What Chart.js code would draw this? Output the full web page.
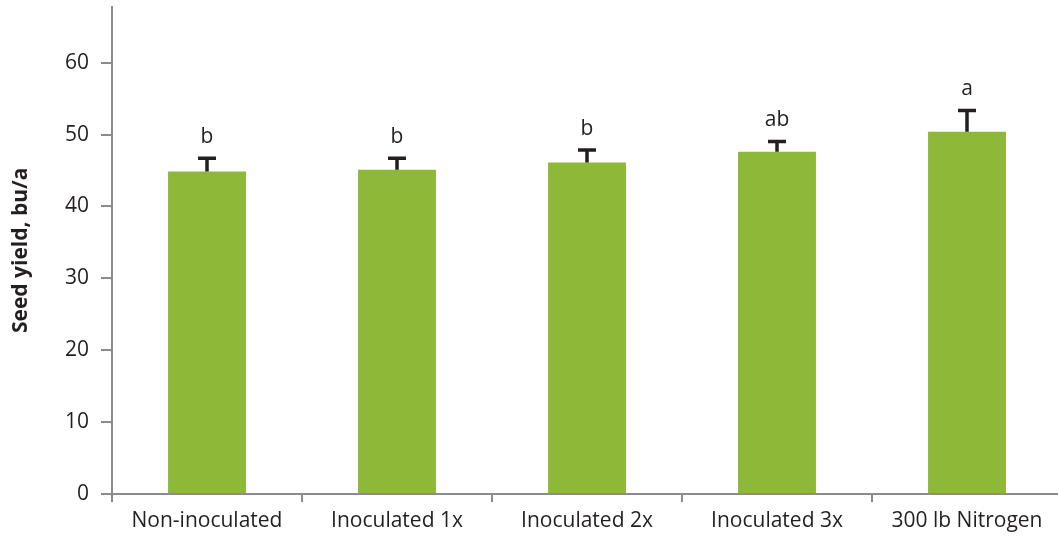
<!DOCTYPE html>
<html>
<head>
<meta charset="utf-8">
<script src="https://cdn.jsdelivr.net/npm/chart.js@4.4.0/dist/chart.umd.min.js"></script>
<style>
html,body{margin:0;padding:0;background:#fff;overflow:hidden;width:1058px;height:539px;}
#wrap{width:1062px;height:557px;position:relative;top:-18px;}
</style>
</head>
<body>
<div id="wrap"><canvas id="c"></canvas></div>
<script>
const categories = ['Non-inoculated', 'Inoculated 1x', 'Inoculated 2x', 'Inoculated 3x', '300 lb Nitrogen'];
const yieldValues = [44.85, 45.1, 46.1, 47.6, 50.4];
const errorValues = [1.85, 1.6, 1.75, 1.45, 2.95];
const letters = ['b', 'b', 'b', 'ab', 'a'];
const yTicks = [0, 10, 20, 30, 40, 50, 60];

const FONT = '"Open Sans", sans-serif';
const TEXT = '#231f20';
const AXIS = '#8c8c90';

const errorBarPlugin = {
  id: 'errorBars',
  afterDatasetsDraw(chart) {
    const ctx = chart.ctx;
    const meta = chart.getDatasetMeta(0);
    const y = chart.scales.y;
    ctx.save();
    ctx.strokeStyle = TEXT;
    ctx.fillStyle = TEXT;
    ctx.lineWidth = 3.5;
    ctx.font = '21px ' + FONT;
    ctx.textAlign = 'center';
    ctx.textBaseline = 'alphabetic';
    meta.data.forEach((bar, i) => {
      const x = bar.x;
      const yTop = y.getPixelForValue(yieldValues[i]);
      const yErr = y.getPixelForValue(yieldValues[i] + errorValues[i]);
      ctx.beginPath();
      ctx.moveTo(x, yTop);
      ctx.lineTo(x, yErr);
      ctx.moveTo(x - 9, yErr);
      ctx.lineTo(x + 9, yErr);
      ctx.stroke();
      ctx.fillText(letters[i], x, yErr - 15);
    });
    ctx.restore();
  }
};

new Chart(document.getElementById('c'), {
  type: 'bar',
  data: {
    labels: categories,
    datasets: [{
      data: yieldValues,
      backgroundColor: '#8db838',
      borderWidth: 0,
      categoryPercentage: 1.0,
      barPercentage: 0.41
    }]
  },
  options: {
    responsive: true,
    maintainAspectRatio: false,
    animation: false,
    layout: { padding: { top: 0, right: 0, left: 0, bottom: 0 } },
    plugins: { legend: { display: false }, tooltip: { enabled: false } },
    scales: {
      x: {
        grid: { display: true, drawOnChartArea: false, drawTicks: true, tickLength: 8, color: AXIS, lineWidth: 2 },
        border: { display: true, color: AXIS, width: 2 },
        ticks: { color: TEXT, font: { family: FONT, size: 21 }, padding: 6, maxRotation: 0, autoSkip: false },
        afterFit(scale) { scale.height = 45; }
      },
      y: {
        min: 0,
        max: 67.8,
        afterBuildTicks(scale) { scale.ticks = yTicks.map(v => ({ value: v })); },
        grid: { display: true, drawOnChartArea: false, drawTicks: true, tickLength: 11, color: AXIS, lineWidth: 2 },
        border: { display: true, color: AXIS, width: 2 },
        ticks: { color: TEXT, font: { family: FONT, size: 21 }, padding: 12 },
        title: { display: true, text: 'Seed yield, bu/a', color: TEXT, font: { family: FONT, size: 21, weight: 'bold' }, padding: { top: 8, bottom: 0 } },
        afterFit(scale) { scale.width = 112; }
      }
    }
  },
  plugins: [errorBarPlugin]
});
</script>
</body>
</html>
